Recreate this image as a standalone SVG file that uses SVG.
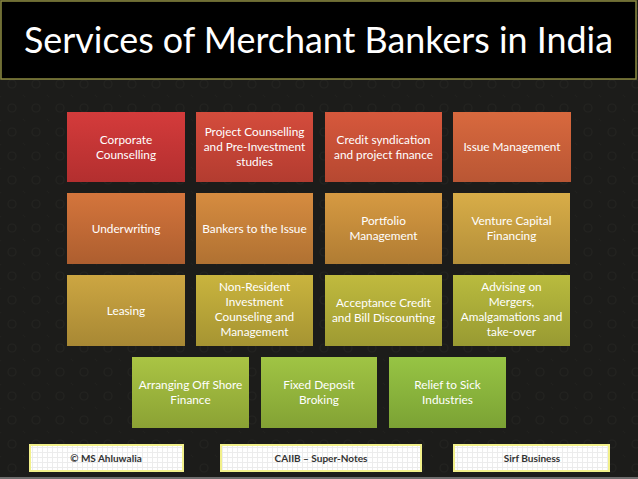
<svg xmlns="http://www.w3.org/2000/svg" width="638" height="479" viewBox="0 0 638 479">
<style>
.t{font-family:Lato,"Open Sans","Liberation Sans",sans-serif;font-size:11.8px;fill:#ffffff;text-anchor:middle}
.f{font-family:Lato,"Liberation Sans",sans-serif;font-size:10px;font-weight:bold;fill:#333;text-anchor:middle}
.ft{stroke:#f2f08a;stroke-width:2;fill:url(#chk)}
</style>
<defs>
<pattern id="bgp" width="24" height="24" patternUnits="userSpaceOnUse">
<rect width="24" height="24" fill="#1c1c1a"/>
<circle cx="12" cy="12" r="4" fill="none" stroke="#232320" stroke-width="1.2"/>
<circle cx="0" cy="0" r="1.2" fill="#21211e"/>
<circle cx="24" cy="24" r="1.2" fill="#21211e"/>
</pattern>
<pattern id="chk" width="5" height="5" patternUnits="userSpaceOnUse">
<rect width="5" height="5" fill="#ffffff"/>
<rect x="2" y="0" width="1" height="5" fill="#ececec"/>
<rect x="0" y="2" width="5" height="1" fill="#ececec"/>
</pattern>
<linearGradient id="g11" x1="0" y1="0" x2="0" y2="1"><stop offset="0" stop-color="#d43b3b"/><stop offset="1" stop-color="#b32f2f"/></linearGradient>
<linearGradient id="g12" x1="0" y1="0" x2="0" y2="1"><stop offset="0" stop-color="#d44c3c"/><stop offset="1" stop-color="#b33c30"/></linearGradient>
<linearGradient id="g13" x1="0" y1="0" x2="0" y2="1"><stop offset="0" stop-color="#d6583c"/><stop offset="1" stop-color="#b64831"/></linearGradient>
<linearGradient id="g14" x1="0" y1="0" x2="0" y2="1"><stop offset="0" stop-color="#d8693e"/><stop offset="1" stop-color="#b95634"/></linearGradient>
<linearGradient id="g21" x1="0" y1="0" x2="0" y2="1"><stop offset="0" stop-color="#d4753c"/><stop offset="1" stop-color="#ad5e2f"/></linearGradient>
<linearGradient id="g22" x1="0" y1="0" x2="0" y2="1"><stop offset="0" stop-color="#d68c40"/><stop offset="1" stop-color="#b07132"/></linearGradient>
<linearGradient id="g23" x1="0" y1="0" x2="0" y2="1"><stop offset="0" stop-color="#d69a42"/><stop offset="1" stop-color="#b07c33"/></linearGradient>
<linearGradient id="g24" x1="0" y1="0" x2="0" y2="1"><stop offset="0" stop-color="#d8ad48"/><stop offset="1" stop-color="#b48f39"/></linearGradient>
<linearGradient id="g31" x1="0" y1="0" x2="0" y2="1"><stop offset="0" stop-color="#cca642"/><stop offset="1" stop-color="#a88834"/></linearGradient>
<linearGradient id="g32" x1="0" y1="0" x2="0" y2="1"><stop offset="0" stop-color="#c9b43e"/><stop offset="1" stop-color="#a69432"/></linearGradient>
<linearGradient id="g33" x1="0" y1="0" x2="0" y2="1"><stop offset="0" stop-color="#c0ba3e"/><stop offset="1" stop-color="#9e9a32"/></linearGradient>
<linearGradient id="g34" x1="0" y1="0" x2="0" y2="1"><stop offset="0" stop-color="#b9bb3e"/><stop offset="1" stop-color="#989a32"/></linearGradient>
<linearGradient id="g41" x1="0" y1="0" x2="0" y2="1"><stop offset="0" stop-color="#aac444"/><stop offset="1" stop-color="#8ba234"/></linearGradient>
<linearGradient id="g42" x1="0" y1="0" x2="0" y2="1"><stop offset="0" stop-color="#a0c444"/><stop offset="1" stop-color="#83a234"/></linearGradient>
<linearGradient id="g43" x1="0" y1="0" x2="0" y2="1"><stop offset="0" stop-color="#97c444"/><stop offset="1" stop-color="#7ba234"/></linearGradient>
</defs>

<rect width="638" height="479" fill="url(#bgp)"/>
<rect x="0" y="477" width="638" height="2" fill="#6e6e6e"/>

<g id="title">
<rect x="1" y="1" width="635" height="78" fill="#000000" stroke="#8c8a40" stroke-width="1.5"/>
<text x="24" y="53" font-family="Lato,'Open Sans','Liberation Sans',sans-serif" font-size="36" fill="#ffffff" textLength="589" lengthAdjust="spacingAndGlyphs">Services of Merchant Bankers in India</text>
</g>

<g id="n1"><rect x="67" y="112" width="118" height="70" fill="url(#g11)"/>
<text class="t" x="126" y="143.5">Corporate</text><text class="t" x="126" y="158.5">Counselling</text></g>
<g id="n2"><rect x="196" y="112" width="117" height="70" fill="url(#g12)"/>
<text class="t" x="254.5" y="136">Project Counselling</text><text class="t" x="254.5" y="151">and Pre-Investment</text><text class="t" x="254.5" y="166">studies</text></g>
<g id="n3"><rect x="325" y="112" width="117" height="70" fill="url(#g13)"/>
<text class="t" x="383.5" y="143.5">Credit syndication</text><text class="t" x="383.5" y="158.5">and project finance</text></g>
<g id="n4"><rect x="453" y="112" width="118" height="70" fill="url(#g14)"/>
<text class="t" x="512" y="151">Issue Management</text></g>

<g id="n5"><rect x="67" y="193" width="118" height="71" fill="url(#g21)"/>
<text class="t" x="126" y="232.5">Underwriting</text></g>
<g id="n6"><rect x="196" y="193" width="117" height="71" fill="url(#g22)"/>
<text class="t" x="254.5" y="232.5">Bankers to the Issue</text></g>
<g id="n7"><rect x="325" y="193" width="117" height="71" fill="url(#g23)"/>
<text class="t" x="383.5" y="225">Portfolio</text><text class="t" x="383.5" y="240">Management</text></g>
<g id="n8"><rect x="453" y="193" width="117" height="71" fill="url(#g24)"/>
<text class="t" x="511.5" y="225">Venture Capital</text><text class="t" x="511.5" y="240">Financing</text></g>

<g id="n9"><rect x="67" y="275" width="118" height="71" fill="url(#g31)"/>
<text class="t" x="126" y="314.5">Leasing</text></g>
<g id="n10"><rect x="196" y="275" width="117" height="71" fill="url(#g32)"/>
<text class="t" x="254.5" y="291">Non-Resident</text><text class="t" x="254.5" y="306">Investment</text><text class="t" x="254.5" y="321">Counseling and</text><text class="t" x="254.5" y="336">Management</text></g>
<g id="n11"><rect x="325" y="275" width="117" height="71" fill="url(#g33)"/>
<text class="t" x="383.5" y="306.5">Acceptance Credit</text><text class="t" x="383.5" y="321.5">and Bill Discounting</text></g>
<g id="n12"><rect x="453" y="275" width="117" height="71" fill="url(#g34)"/>
<text class="t" x="511.5" y="291">Advising on</text><text class="t" x="511.5" y="306">Mergers,</text><text class="t" x="511.5" y="321">Amalgamations and</text><text class="t" x="511.5" y="336">take-over</text></g>

<g id="n13"><rect x="132" y="357" width="117" height="71" fill="url(#g41)"/>
<text class="t" x="190.5" y="389">Arranging Off Shore</text><text class="t" x="190.5" y="404">Finance</text></g>
<g id="n14"><rect x="261" y="357" width="116" height="71" fill="url(#g42)"/>
<text class="t" x="319" y="389">Fixed Deposit</text><text class="t" x="319" y="404">Broking</text></g>
<g id="n15"><rect x="389" y="357" width="117" height="71" fill="url(#g43)"/>
<text class="t" x="447.5" y="389">Relief to Sick</text><text class="t" x="447.5" y="404">Industries</text></g>

<g id="footer1"><rect class="ft" x="30" y="445" width="153" height="26"/><text class="f" x="106" y="461.5">© MS Ahluwalia</text></g>
<g id="footer2"><rect class="ft" x="221" y="445" width="200" height="26"/><text class="f" x="321" y="461.5">CAIIB – Super-Notes</text></g>
<g id="footer3"><rect class="ft" x="454" y="445" width="155" height="26"/><text class="f" x="532" y="461.5">Sirf Business</text></g>
</svg>
